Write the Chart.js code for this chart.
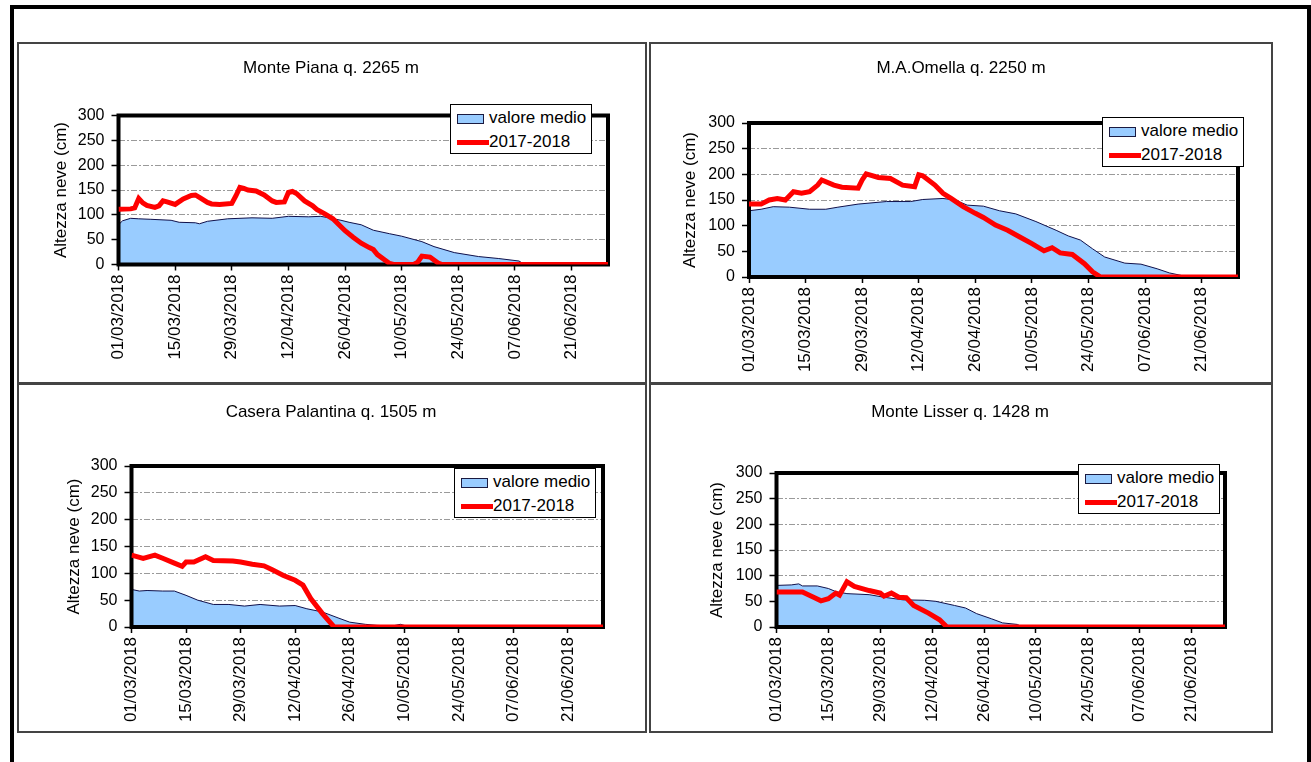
<!DOCTYPE html>
<html>
<head>
<meta charset="utf-8">
<script src="https://cdn.jsdelivr.net/npm/chart.js@4.4.1/dist/chart.umd.min.js"></script>
<style>
  body { margin: 0; background: #fff; width: 1311px; height: 762px; overflow: hidden; position: relative;
         font-family: 'Liberation Sans', Arial, sans-serif; }
  .frame { position: absolute; left: 10px; top: 5px; width: 1301px; height: 800px; border: 4px solid #000; box-sizing: border-box; }
  .panel { position: absolute; border: 2px solid #444; box-sizing: border-box; pointer-events: none; }
  canvas { position: absolute; }
  .legend { position: absolute; width: 142px; height: 50px; background: #fff; border: 1px solid #000; box-sizing: border-box;
            font-size: 17px; color: #000; }
  .legend .sw-area { position: absolute; left: 6px; top: 9px; width: 27px; height: 10px; background: #99ccff; border: 1.5px solid #1a1a40; box-sizing: border-box; }
  .legend .sw-line { position: absolute; left: 6px; top: 35px; width: 32px; height: 5px; background: #ff0000; }
  .legend .lbl { position: absolute; left: 38px; white-space: nowrap; line-height: 20px; }
</style>
</head>
<body>
<div class="frame"></div>
<script>
// x axis: days after 01/03/2018, tick every 14 days
const xLabels = ['01/03/2018', '15/03/2018', '29/03/2018', '12/04/2018', '26/04/2018',
                 '10/05/2018', '24/05/2018', '07/06/2018', '21/06/2018'];
const xTickDays = [0, 14, 28, 42, 56, 70, 84, 98, 112];
const lastDay = 121; // 30/06/2018
const yTicks = [0, 50, 100, 150, 200, 250, 300];
const seriesNames = ['valore medio', '2017-2018'];
const yTitle = 'Altezza neve (cm)';

// Monte Piana
const pianaMeanDays = [0, 1, 3, 5, 8, 13, 15, 19, 20, 22, 27, 33, 38, 42, 47, 50, 52, 55, 57, 60, 63, 67, 70, 75, 78, 83, 89, 94, 99, 100, 101, 121];
const pianaMean     = [80, 88, 93, 92, 91, 89, 85, 84, 82, 87, 92, 94, 93, 97, 96, 97, 94, 89, 85, 80, 69, 62, 57, 46, 36, 24, 16, 12, 7, 2, 0, 0];
const pianaSeasonDays = [0, 3, 4, 5, 6, 7, 9, 10, 11, 12, 14, 16, 18, 19, 20, 22, 23, 25, 28, 29, 30, 31, 32, 34, 36, 38, 39, 41, 42, 43, 44, 46, 48, 49, 51, 53, 55, 56, 58, 60, 62, 63, 64, 66, 67, 68, 73, 74, 75, 77, 79, 80, 121];
const pianaSeason     = [111, 112, 114, 133, 124, 119, 115, 118, 128, 126, 121, 132, 139, 140, 135, 125, 122, 121, 123, 138, 155, 153, 150, 148, 140, 128, 125, 126, 145, 147, 143, 128, 118, 111, 102, 92, 76, 68, 55, 43, 34, 30, 20, 8, 2, 0, 0, 5, 17, 15, 3, 0, 0];

// M.A. Omella
const omellaMeanDays = [0, 3, 6, 10, 15, 19, 22, 27, 34, 40, 43, 48, 51, 54, 58, 62, 66, 71, 76, 79, 82, 85, 88, 93, 97, 101, 104, 107, 108, 121];
const omellaMean     = [129, 132, 137, 136, 132, 132, 136, 142, 147, 147, 151, 153, 150, 140, 138, 129, 123, 108, 91, 80, 72, 55, 39, 27, 25, 16, 8, 3, 0, 0];
const omellaSeasonDays = [0, 3, 5, 7, 9, 11, 13, 15, 17, 18, 21, 23, 27, 28, 29, 32, 35, 38, 41, 42, 43, 46, 48, 50, 53, 56, 58, 61, 64, 67, 70, 73, 75, 77, 80, 83, 85, 87, 121];
const omellaSeason     = [142, 142, 150, 153, 150, 166, 163, 166, 179, 189, 179, 175, 173, 189, 201, 194, 192, 179, 176, 199, 197, 179, 163, 153, 137, 124, 116, 101, 91, 78, 65, 51, 57, 47, 44, 26, 10, 0, 0];

// Casera Palantina
const palantinaMeanDays = [0, 2, 4, 8, 11, 14, 17, 21, 25, 29, 33, 38, 42, 45, 49, 53, 56, 60, 63, 67, 69, 71, 72, 121];
const palantinaMean     = [70, 67, 68, 67, 67, 59, 50, 42, 42, 39, 42, 39, 40, 34, 28, 17, 9, 5, 3, 2, 5, 1, 0, 0];
const palantinaSeasonDays = [0, 3, 6, 8, 11, 13, 14, 16, 19, 21, 26, 28, 31, 34, 36, 39, 42, 44, 46, 49, 52, 121];
const palantinaSeason     = [134, 128, 134, 128, 119, 113, 121, 121, 131, 124, 123, 121, 117, 114, 107, 96, 87, 78, 53, 25, 0, 0];

// Monte Lisser
const lisserMeanDays = [0, 4, 6, 7, 11, 14, 16, 19, 25, 29, 34, 40, 43, 48, 51, 54, 58, 61, 65, 66, 67, 121];
const lisserMean     = [81, 82, 84, 80, 80, 75, 69, 65, 63, 58, 53, 52, 50, 42, 37, 26, 16, 8, 5, 1, 0, 0];
const lisserSeasonDays = [0, 7, 10, 12, 14, 16, 17, 19, 21, 25, 28, 29, 31, 33, 35, 37, 41, 44, 46, 121];
const lisserSeason     = [68, 68, 58, 51, 55, 66, 62, 88, 79, 71, 66, 60, 66, 58, 57, 42, 27, 14, 0, 0];

const fontFamily = "'Liberation Sans', Arial, sans-serif";

// panel box [left, top, width, height], plot area [left, top, right, bottom]
const panels = [
  { title: 'Monte Piana q. 2265 m', box: [17, 42, 630, 342], area: [118.5, 115.5, 608, 264.5], titleX: 331, titleY: 68, yTitleX: 61, legend: [450, 104],
    meanDays: pianaMeanDays, mean: pianaMean, seasonDays: pianaSeasonDays, season: pianaSeason },
  { title: 'M.A.Omella q. 2250 m', box: [649, 42, 624, 342], area: [749, 123, 1238, 277], titleX: 961, titleY: 68, yTitleX: 690, legend: [1102, 117],
    meanDays: omellaMeanDays, mean: omellaMean, seasonDays: omellaSeasonDays, season: omellaSeason },
  { title: 'Casera Palantina q. 1505 m', box: [17, 383, 630, 350], area: [131.5, 466, 603, 627], titleX: 331, titleY: 412, yTitleX: 74, legend: [454, 468],
    meanDays: palantinaMeanDays, mean: palantinaMean, seasonDays: palantinaSeasonDays, season: palantinaSeason },
  { title: 'Monte Lisser q. 1428 m', box: [649, 383, 624, 350], area: [776.5, 473, 1225, 627], titleX: 960, titleY: 412, yTitleX: 717, legend: [1078, 464],
    meanDays: lisserMeanDays, mean: lisserMean, seasonDays: lisserSeasonDays, season: lisserSeason }
];

// thick black plot border, drawn between the blue area and the red line
const framePlugin = {
  id: 'cornice',
  afterDatasetDraw(chart, args) {
    if (args.index !== 1) return;
    const { ctx, chartArea: a } = chart;
    ctx.save();
    ctx.strokeStyle = '#000';
    ctx.lineWidth = 4;
    ctx.strokeRect(a.left, a.top, a.right - a.left, a.bottom - a.top);
    ctx.restore();
  }
};

function toPoints(days, values) {
  return days.map((d, i) => ({ x: d, y: values[i] }));
}

function addLegend(p) {
  const lg = document.createElement('div');
  lg.className = 'legend';
  lg.style.left = p.legend[0] + 'px';
  lg.style.top = p.legend[1] + 'px';
  lg.innerHTML = `<div class="sw-area"></div><div class="lbl" style="top:3px">${seriesNames[0]}</div>` +
                 `<div class="sw-line"></div><div class="lbl" style="top:27px">${seriesNames[1]}</div>`;
  document.body.appendChild(lg);
}

function makeChart(p) {
  const [bx, by, bw, bh] = p.box;
  const [al, at, ar, ab] = p.area;
  const canvas = document.createElement('canvas');
  canvas.width = bw;
  canvas.height = bh;
  canvas.style.left = bx + 'px';
  canvas.style.top = by + 'px';
  document.body.appendChild(canvas);

  const border = document.createElement('div');
  border.className = 'panel';
  border.style.left = bx + 'px';
  border.style.top = by + 'px';
  border.style.width = bw + 'px';
  border.style.height = bh + 'px';
  document.body.appendChild(border);

  const titleSize = 17;
  const tY = p.titleY - by;
  // left/right padding chosen so the title box is centred on titleX
  const padRight = bx + bw - ar;
  const padLeft = 2 * (p.titleX - bx) - bw + padRight;

  new Chart(canvas, {
    type: 'line',
    data: {
      datasets: [
        {
          label: seriesNames[1],
          data: toPoints(p.seasonDays, p.season),
          borderColor: '#ff0000',
          borderWidth: 5,
          pointRadius: 0,
          fill: false,
          tension: 0,
          order: 0
        },
        {
          label: seriesNames[0],
          data: toPoints(p.meanDays, p.mean),
          borderColor: '#10104a',
          borderWidth: 1,
          backgroundColor: '#99ccff',
          fill: 'origin',
          pointRadius: 0,
          tension: 0,
          order: 1
        }
      ]
    },
    options: {
      responsive: false,
      animation: false,
      devicePixelRatio: 1,
      layout: { padding: { left: padLeft, top: 0, right: padRight, bottom: 0 } },
      plugins: {
        legend: { display: false },
        tooltip: { enabled: false },
        title: {
          display: true,
          text: p.title,
          color: '#000',
          font: { family: fontFamily, size: titleSize, weight: 'normal', lineHeight: 1 },
          padding: { top: tY - titleSize / 2, bottom: (at - by) - tY - titleSize / 2 }
        }
      },
      scales: {
        x: {
          type: 'linear',
          min: 0,
          max: lastDay,
          afterFit: s => { s.height = by + bh - ab; },
          afterBuildTicks: s => { s.ticks = xTickDays.map(v => ({ value: v })); },
          ticks: {
            autoSkip: false,
            minRotation: 90,
            maxRotation: 90,
            padding: 4,
            color: '#000',
            font: { family: fontFamily, size: 17 },
            callback: (v, i) => xLabels[i]
          },
          grid: { drawOnChartArea: false, drawTicks: true, tickLength: 6, tickColor: '#000', tickWidth: 1.5 },
          border: { display: false }
        },
        y: {
          min: 0,
          max: 300,
          afterFit: s => { s.width = al - bx - padLeft; },
          afterBuildTicks: s => { s.ticks = yTicks.map(v => ({ value: v })); },
          ticks: {
            padding: 7,
            color: '#000',
            font: { family: fontFamily, size: 16 }
          },
          grid: {
            color: ctx => (ctx.tick && (ctx.tick.value === 0 || ctx.tick.value === 300)) ? 'rgba(0,0,0,0)' : '#9a9a9a',
            lineWidth: 1,
            tickLength: 7,
            tickColor: '#000',
            tickWidth: 1.5
          },
          border: { display: false, dash: [6, 2, 2, 2] },
          title: {
            display: true,
            text: yTitle,
            color: '#000',
            font: { family: fontFamily, size: 17, lineHeight: 1 },
            padding: { top: p.yTitleX - bx - padLeft - 8.5, bottom: 0 }
          }
        }
      }
    },
    plugins: [framePlugin]
  });

  addLegend(p);
}

panels.forEach(makeChart);
</script>
</body>
</html>
